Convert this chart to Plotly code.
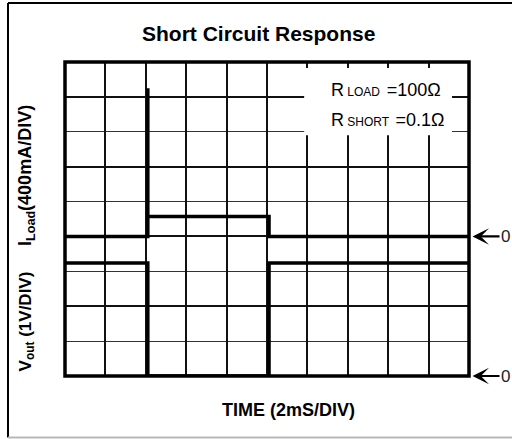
import plotly.graph_objects as go

# Time axis in ms (2 ms/div, 10 divisions)
time_load_ms = [0, 4.1, 4.1, 4.1, 10.1, 10.1, 20]
i_load_a = [0, 0, 1.7, 0.23, 0.23, 0, 0]

time_vout_ms = [0, 4.1, 4.1, 10.1, 10.1, 20]
v_out_v = [3.24, 3.24, 0, 0, 3.24, 3.24]

x_range_ms = [0, 20]        # 2 ms/div
vout_range_v = [0, 9]       # 1 V/div, zero at bottom
iload_range_a = [-1.6, 2.0] # 400 mA/div, zero 4 div above bottom

FONT = "Liberation Sans, Arial, sans-serif"

fig = go.Figure()
fig.add_trace(go.Scatter(x=time_vout_ms, y=v_out_v, mode="lines",
                         line=dict(color="black", width=3.5), yaxis="y",
                         showlegend=False, hoverinfo="skip"))
fig.add_trace(go.Scatter(x=time_load_ms, y=i_load_a, mode="lines",
                         line=dict(color="black", width=3.5), yaxis="y2",
                         showlegend=False, hoverinfo="skip"))

fig.update_layout(
    width=512, height=439, autosize=False,
    margin=dict(l=65, r=43, t=62, b=63),
    paper_bgcolor="white", plot_bgcolor="white",
    font=dict(family=FONT, color="black"),
    xaxis=dict(range=x_range_ms, dtick=2, showgrid=True, gridcolor="#111",
               gridwidth=1.6, showticklabels=False, zeroline=False,
               showline=False, ticks=""),
    yaxis=dict(range=vout_range_v, dtick=2, showgrid=True, gridcolor="#111",
               gridwidth=2.2, showticklabels=False, zeroline=False,
               showline=False, ticks="",
               minor=dict(dtick=1, showgrid=True, gridcolor="#333", gridwidth=1.2)),
    yaxis2=dict(range=iload_range_a, overlaying="y", visible=False),
)

shapes = [
    # white box behind resistor legend
    dict(type="rect", xref="paper", yref="paper", x0=0.592, x1=0.958,
         y0=0.767, y1=0.981, fillcolor="white", line=dict(width=0), layer="above"),
    # plot frame
    dict(type="rect", xref="paper", yref="paper", x0=0, x1=1, y0=0, y1=1,
         line=dict(color="black", width=3.5), layer="above"),
    # outer figure frame
    dict(type="line", xref="paper", yref="paper", x0=-0.1411, x1=-0.1411,
         y0=-0.196, y1=1.188, line=dict(color="black", width=2)),
    dict(type="line", xref="paper", yref="paper", x0=-0.1411, x1=1.12,
         y0=1.188, y1=1.188, line=dict(color="black", width=2)),
    dict(type="line", xref="paper", yref="paper", x0=-0.1411, x1=1.12,
         y0=-0.196, y1=-0.196, line=dict(color="#b8b8b8", width=2)),
]
fig.update_layout(shapes=shapes)

C = dict(xanchor="center", yanchor="middle", showarrow=False,
         xref="paper", yref="paper")
ann = [
    dict(text="<b>Short Circuit Response</b>", x=0.480, y=1.092,
         font=dict(size=21), **C),
    dict(text="<b>TIME (2mS/DIV)</b>", x=0.552, y=-0.108,
         font=dict(size=18), **C),
    dict(text="<b>I<sub>Load</sub>(400mA/DIV)</b>", x=-0.094, y=0.637,
         textangle=-90, font=dict(size=18), **C),
    dict(text="<b>V<sub>out</sub> (1V/DIV)</b>", x=-0.094, y=0.174,
         textangle=-90, font=dict(size=17), **C),
    dict(text="R<span style='font-size:12px'> LOAD  </span>=100Ω",
         xref="paper", yref="paper", x=0.653, y=0.911, xanchor="left",
         yanchor="middle", showarrow=False, font=dict(size=18)),
    dict(text="R<span style='font-size:12px'> SHORT  </span>=0.1Ω",
         xref="paper", yref="paper", x=0.653, y=0.815, xanchor="left",
         yanchor="middle", showarrow=False, font=dict(size=18)),
    # zero markers
    dict(text="0", xref="paper", yref="y2", x=1.0087, y=0, ax=33, ay=0,
         showarrow=True, arrowhead=3, arrowwidth=2.2, arrowsize=1.25,
         arrowcolor="black", standoff=0, font=dict(size=17, color="#222")),
    dict(text="0", xref="paper", yref="y", x=1.0087, y=0, ax=33, ay=0,
         showarrow=True, arrowhead=3, arrowwidth=2.2, arrowsize=1.25,
         arrowcolor="black", standoff=0, font=dict(size=17, color="#222")),
]
fig.update_layout(annotations=ann)

fig.write_html("out.html", config={"displayModeBar": False},
               post_script="document.body.style.margin='0px';")
